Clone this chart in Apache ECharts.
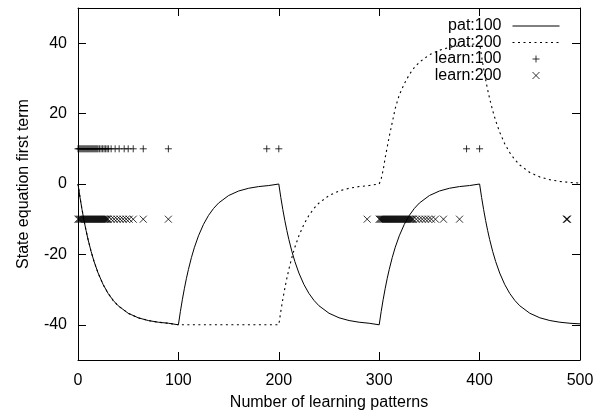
<!DOCTYPE html>
<html>
<head>
<meta charset="utf-8">
<script src="https://cdn.jsdelivr.net/npm/echarts/dist/echarts.min.js"></script>
<style>
  html, body { margin: 0; padding: 0; background: #fff; }
  #chart { width: 606px; height: 411px; }
</style>
</head>
<body>
<div id="chart"></div>
<script>
// x positions of the curve samples (learning pattern count)
var patX = [0, 2, 4, 6, 8, 10, 13, 16, 20, 25, 30, 35, 40, 50, 60, 70, 80, 90,
  100, 102, 104, 106, 108, 110, 113, 116, 120, 125, 130, 135, 140, 150, 160, 170, 180, 190,
  200, 202, 204, 206, 208, 210, 213, 216, 220, 225, 230, 235, 240, 250, 260, 270, 280, 290,
  300, 302, 304, 306, 308, 310, 313, 316, 320, 325, 330, 335, 340, 350, 360, 370, 380, 390,
  400, 402, 404, 406, 408, 410, 413, 416, 420, 425, 430, 435, 440, 450, 460, 470, 480, 490, 500];

// pat:100 (solid)
var pat100Y = [0, -3.81, -7.25, -10.37, -13.19, -15.74, -19.12, -22.03, -25.28, -28.54, -31.08, -33.05, -34.59, -36.72, -38.01, -38.79, -39.27, -39.56,
  -40, -36.19, -32.75, -29.63, -26.81, -24.26, -20.88, -17.97, -14.72, -11.46, -8.92, -6.95, -5.41, -3.28, -1.99, -1.21, -0.73, -0.44,
  0, -3.81, -7.25, -10.37, -13.19, -15.74, -19.12, -22.03, -25.28, -28.54, -31.08, -33.05, -34.59, -36.72, -38.01, -38.79, -39.27, -39.56,
  -40, -36.19, -32.75, -29.63, -26.81, -24.26, -20.88, -17.97, -14.72, -11.46, -8.92, -6.95, -5.41, -3.28, -1.99, -1.21, -0.73, -0.44,
  0, -3.81, -7.25, -10.37, -13.19, -15.74, -19.12, -22.03, -25.28, -28.54, -31.08, -33.05, -34.59, -36.72, -38.01, -38.79, -39.27, -39.56, -39.73];

// pat:200 (dotted)
var pat200Y = [0, -3.81, -7.25, -10.37, -13.19, -15.74, -19.12, -22.03, -25.28, -28.54, -31.08, -33.05, -34.59, -36.72, -38.01, -38.79, -39.27, -39.56,
  -40, -40, -40, -40, -40, -40, -40, -40, -40, -40, -40, -40, -40, -40, -40, -40, -40, -40,
  -40, -36.19, -32.75, -29.63, -26.81, -24.26, -20.88, -17.97, -14.72, -11.46, -8.92, -6.95, -5.41, -3.28, -1.99, -1.21, -0.73, -0.44,
  0, 1.5, 4, 7.5, 10.5, 13.5, 17.5, 21.5, 25.3, 28.5, 31.1, 33.1, 34.6, 36.7, 38, 38.8, 39.3, 39.6,
  40, 36.19, 32.75, 29.63, 26.81, 24.26, 20.88, 17.97, 14.72, 11.46, 8.92, 6.95, 5.41, 3.28, 1.99, 1.21, 0.73, 0.44, 0.27];

// learning events
var learn100Level = 10;
var learn100X = [0, 1, 2, 3, 4, 5, 6, 7, 8, 9, 10, 11, 12, 13, 14, 15, 16, 17, 18, 19, 20,
  21.5, 23, 24.5, 26, 27.5, 29, 30.5, 33, 37, 41, 46, 50, 55, 65, 90, 188, 200, 387, 400];

var learn200Level = -10;
var learn200X = [0, 1, 2, 3, 4, 5, 6, 7, 8, 9, 10, 11, 12, 13, 14, 15, 16, 17, 18, 19, 20,
  21, 22, 23, 24, 25, 26, 27, 28, 29, 30, 33, 36, 39, 42, 45, 48, 51, 55, 65, 90,
  288, 300, 301, 302, 303, 304, 305, 306, 307, 308, 309, 310, 311, 312, 313, 314, 315, 316, 317,
  318, 319, 320, 321, 322, 323, 324, 325, 326, 327, 328, 329, 330, 331, 332, 333, 334,
  337, 340, 343, 346, 349, 352, 356, 364, 380, 486.5, 487, 487.5];

var xTicks = [0, 100, 200, 300, 400, 500];
var yTicks = [-40, -20, 0, 20, 40];

var FONT = 'Liberation Sans, Arial, Helvetica, sans-serif';

function zip(xs, ys) {
  return xs.map(function(x, i) { return [x, ys[i]]; });
}
function level(xs, y) {
  return xs.map(function(x) { return [x, y]; });
}

var myChart = echarts.init(document.getElementById('chart'));

var axisCommon = {
  type: 'value',
  axisLine: { show: true, onZero: false, lineStyle: { color: '#000', width: 1 } },
  splitLine: { show: false }
};

// legend: line samples without the dot in the middle
var noDot = { color: 'rgba(0,0,0,0)', borderColor: 'rgba(0,0,0,0)', borderWidth: 0 };

var option = {
  animation: false,
  backgroundColor: '#fff',
  textStyle: { fontFamily: FONT },
  grid: { left: 78, right: 26, top: 8, bottom: 51, outerBoundsMode: 'none' },
  legend: {
    orient: 'vertical',
    align: 'right',
    right: 46,
    top: 18,
    padding: 0,
    itemWidth: 47,
    itemHeight: 7,
    itemGap: 0.5,
    itemStyle: { borderWidth: 1 },
    lineStyle: { width: 1 },
    textStyle: { fontFamily: FONT, fontSize: 16, color: '#000', lineHeight: 16, padding: [0, 6, 0, 0] },
    data: [
      { name: 'pat:100', itemStyle: noDot },
      { name: 'pat:200', itemStyle: noDot },
      'learn:100',
      'learn:200'
    ]
  },
  xAxis: [
    Object.assign({}, axisCommon, {
      position: 'bottom',
      min: 0, max: 500, interval: 100,
      axisTick: { show: true, inside: true, length: 8, customValues: xTicks, lineStyle: { color: '#000' } },
      axisLabel: { customValues: xTicks, color: '#000', fontSize: 16, fontFamily: FONT, margin: 13 },
      name: 'Number of learning patterns',
      nameLocation: 'middle',
      nameGap: 35,
      nameTextStyle: { color: '#000', fontSize: 16, fontFamily: FONT }
    }),
    Object.assign({}, axisCommon, {
      position: 'top',
      min: 0, max: 500, interval: 100,
      axisTick: { show: true, inside: true, length: 8, customValues: xTicks, lineStyle: { color: '#000' } },
      axisLabel: { show: false }
    })
  ],
  yAxis: [
    Object.assign({}, axisCommon, {
      position: 'left',
      min: -50, max: 50,
      axisTick: { show: true, inside: true, length: 8, customValues: yTicks, lineStyle: { color: '#000' } },
      axisLabel: { customValues: yTicks, color: '#000', fontSize: 16, fontFamily: FONT, margin: 11 },
      name: 'State equation first term',
      nameLocation: 'middle',
      nameGap: 46,
      nameTextStyle: { color: '#000', fontSize: 16, fontFamily: FONT }
    }),
    Object.assign({}, axisCommon, {
      position: 'right',
      min: -50, max: 50,
      axisTick: { show: true, inside: true, length: 8, customValues: yTicks, lineStyle: { color: '#000' } },
      axisLabel: { show: false }
    })
  ],
  series: [
    {
      name: 'pat:100',
      type: 'line',
      symbol: 'none',
      showSymbol: false,
      lineStyle: { color: '#000', width: 1 },
      itemStyle: { color: '#000' },
      data: zip(patX, pat100Y)
    },
    {
      name: 'pat:200',
      type: 'line',
      symbol: 'none',
      showSymbol: false,
      lineStyle: { color: '#000', width: 1.1, type: [2, 3.5] },
      itemStyle: { color: '#000' },
      data: zip(patX, pat200Y)
    },
    {
      name: 'learn:100',
      type: 'scatter',
      symbol: 'path://M5,0L5,10M0,5L10,5',
      symbolSize: 7,
      itemStyle: { color: '#000', borderColor: '#000', borderWidth: 1 },
      data: level(learn100X, learn100Level)
    },
    {
      name: 'learn:200',
      type: 'scatter',
      symbol: 'path://M0,0L10,10M10,0L0,10',
      symbolSize: 7,
      itemStyle: { color: '#000', borderColor: '#000', borderWidth: 1 },
      data: level(learn200X, learn200Level)
    }
  ]
};

myChart.setOption(option);
</script>
</body>
</html>
